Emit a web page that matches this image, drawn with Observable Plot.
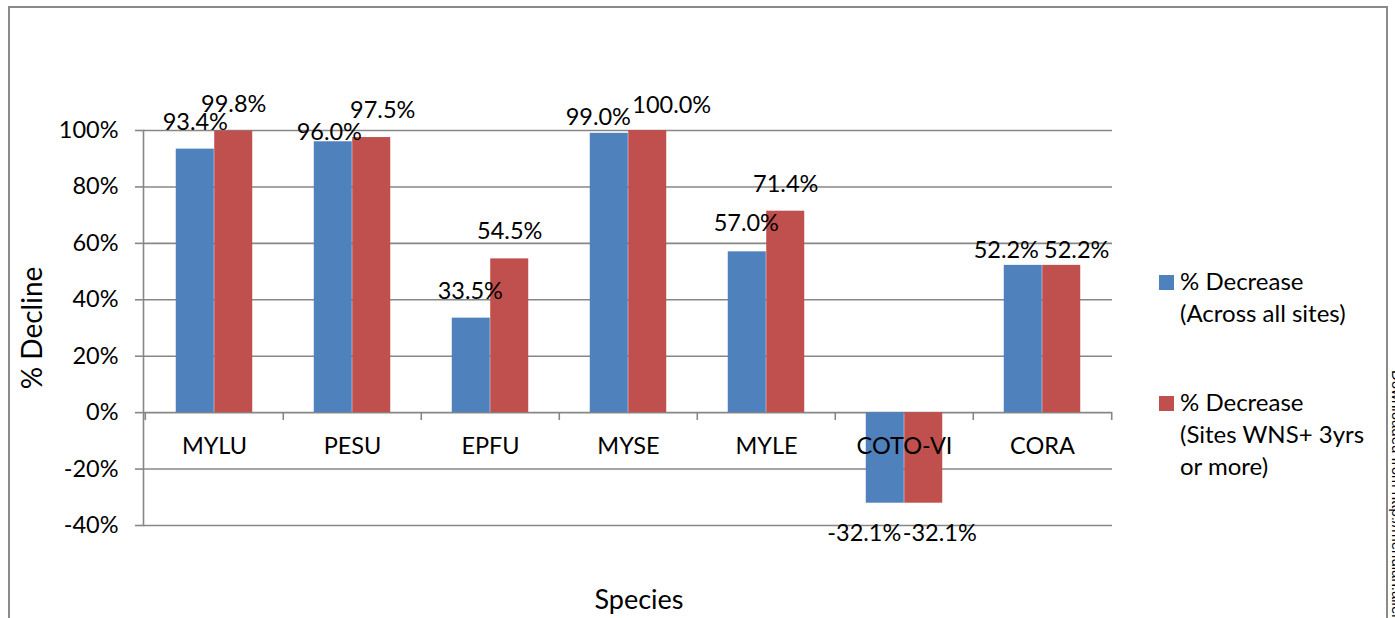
<!DOCTYPE html>
<html>
<head>
<meta charset="utf-8">
<script src="https://cdn.jsdelivr.net/npm/d3@7"></script>
<script src="https://cdn.jsdelivr.net/npm/@observablehq/plot@0.6"></script>
<style>
  html, body { margin: 0; padding: 0; background: #fff; }
  #wrap { position: relative; width: 1395px; height: 618px; overflow: hidden; background: #fff; font-family: Lato, "Open Sans", sans-serif; }
  #frame { position: absolute; left: 8px; top: 6px; width: 1380px; height: 700px; border: 2px solid #8a8a8a; border-bottom: none; box-sizing: border-box; }
  #chart { position: absolute; left: 0; top: 0; }
  .leg { position: absolute; left: 1159px; font-size: 24px; line-height: 32px; color: #000; }
  .leg .sw { position: absolute; left: 0; top: 10px; width: 15px; height: 15px; }
  .leg .tx { position: absolute; left: 21px; top: 0; white-space: pre; }
  #side { position: absolute; left: 1389px; top: 370px; font-size: 15px; color: #000; transform-origin: 0 0; transform: rotate(90deg) translate(0, -17px); white-space: nowrap; font-family: "Liberation Sans", Arial, sans-serif; }
</style>
</head>
<body>
<div id="wrap">
  <div id="frame"></div>
  <div id="chart"></div>
  <div id="legend"></div>
  <div id="side">Downloaded from http://meridian.allenpress.com</div>
</div>
<script>
// ---- data ----
const species = ["MYLU", "PESU", "EPFU", "MYSE", "MYLE", "COTO-VI", "CORA"];
const acrossAllSites = [93.4, 96.0, 33.5, 99.0, 57.0, -32.1, 52.2];
const sitesWns3yrs = [99.8, 97.5, 54.5, 100.0, 71.4, -32.1, 52.2];
const yTicks = [-40, -20, 0, 20, 40, 60, 80, 100];
const seriesNames = ["% Decrease\n(Across all sites)", "% Decrease\n(Sites WNS+ 3yrs\nor more)"];
const seriesColors = ["#4F81BD", "#C0504D"];
const xTitle = "Species";
const yTitle = "% Decline";

// label nudges (layout only, pixels) as placed in the original chart
const nudgeA = [[0, 0], [-4, 18], [-1, 0], [-11, 11], [-1, -1], [-21, 0], [-17, 12]];
const nudgeB = [[0, 0], [11, 0], [0, 0], [24, 2], [0, 0], [16, 0], [15, 12]];

// ---- build ----
const W = 1395, H = 618;
const mL = 143, mR = 283, mT = 130, mB = 93;
const bw = (W - mL - mR) / species.length;
const barW = bw / 3.6;            // Excel gap width 80%
const gap = (bw - 2 * barW) / 2;

const rowsA = species.map((s, i) => ({species: s, v: acrossAllSites[i]}));
const rowsB = species.map((s, i) => ({species: s, v: sitesWns3yrs[i]}));
const fmt = v => v.toFixed(1) + "%";
const grey = "#878787";
const fs = 23.5;

function valueLabels(rows, side, nudges) {
  return rows.map((d, i) => Plot.text([d], {
    x: "species", y: "v", text: r => fmt(r.v),
    dx: side * barW / 2 + nudges[i][0],
    dy: (d.v >= 0 ? -27 : 30) + nudges[i][1],
    lineAnchor: "middle", textAnchor: "middle", fontSize: fs, fill: "#000"
  }));
}

const chart = Plot.plot({
  width: W,
  height: H,
  marginLeft: mL, marginRight: mR, marginTop: mT, marginBottom: mB,
  style: {fontFamily: "Lato, 'Open Sans', sans-serif", fontSize: fs + "px", color: "#000", background: "transparent", overflow: "visible"},
  x: {type: "band", domain: species, padding: 0, axis: null},
  y: {domain: [-40, 100], axis: null},
  marks: [
    Plot.ruleY(yTicks, {stroke: grey, strokeWidth: 1.6}),
    Plot.axisY({ticks: yTicks, tickSize: 8, tickPadding: 17, tickFormat: d => d + "%", stroke: grey, strokeWidth: 1.6, fill: "#000", fontSize: fs, label: null}),
    Plot.frame({anchor: "left", stroke: grey, strokeWidth: 1.6}),
    Plot.barY(rowsA, {x: "species", y: "v", fill: seriesColors[0], insetLeft: gap, insetRight: gap + barW}),
    Plot.barY(rowsB, {x: "species", y: "v", fill: seriesColors[1], insetLeft: gap + barW, insetRight: gap}),
    Plot.ruleX(species, {x: d => d, dx: -bw / 2, y1: 0, y2: -2.8, stroke: grey, strokeWidth: 1.6}),
    Plot.ruleX(species.slice(-1), {x: d => d, dx: bw / 2, y1: 0, y2: -2.8, stroke: grey, strokeWidth: 1.6}),
    Plot.text(species, {x: d => d, y: species.map(() => 0), dy: 34, lineAnchor: "middle", fontSize: fs, fill: "#000"}),
    ...valueLabels(rowsA, -1, nudgeA),
    ...valueLabels(rowsB, 1, nudgeB),
    Plot.text([yTitle], {frameAnchor: "left", rotate: -90, dx: -110, lineAnchor: "middle", textAnchor: "middle", fontSize: 28, fill: "#000"}),
    Plot.text([xTitle], {frameAnchor: "bottom", dx: 11, dy: 75, lineAnchor: "middle", textAnchor: "middle", fontSize: 27, fill: "#000"})
  ]
});
document.getElementById("chart").appendChild(chart);

// ---- legend ----
const legendTops = [265, 386];
const legend = d3.select("#legend");
seriesNames.forEach((name, i) => {
  const g = legend.append("div").attr("class", "leg").style("top", legendTops[i] + "px");
  g.append("div").attr("class", "sw").style("background", seriesColors[i]);
  g.append("div").attr("class", "tx").text(name);
});
</script>
</body>
</html>
